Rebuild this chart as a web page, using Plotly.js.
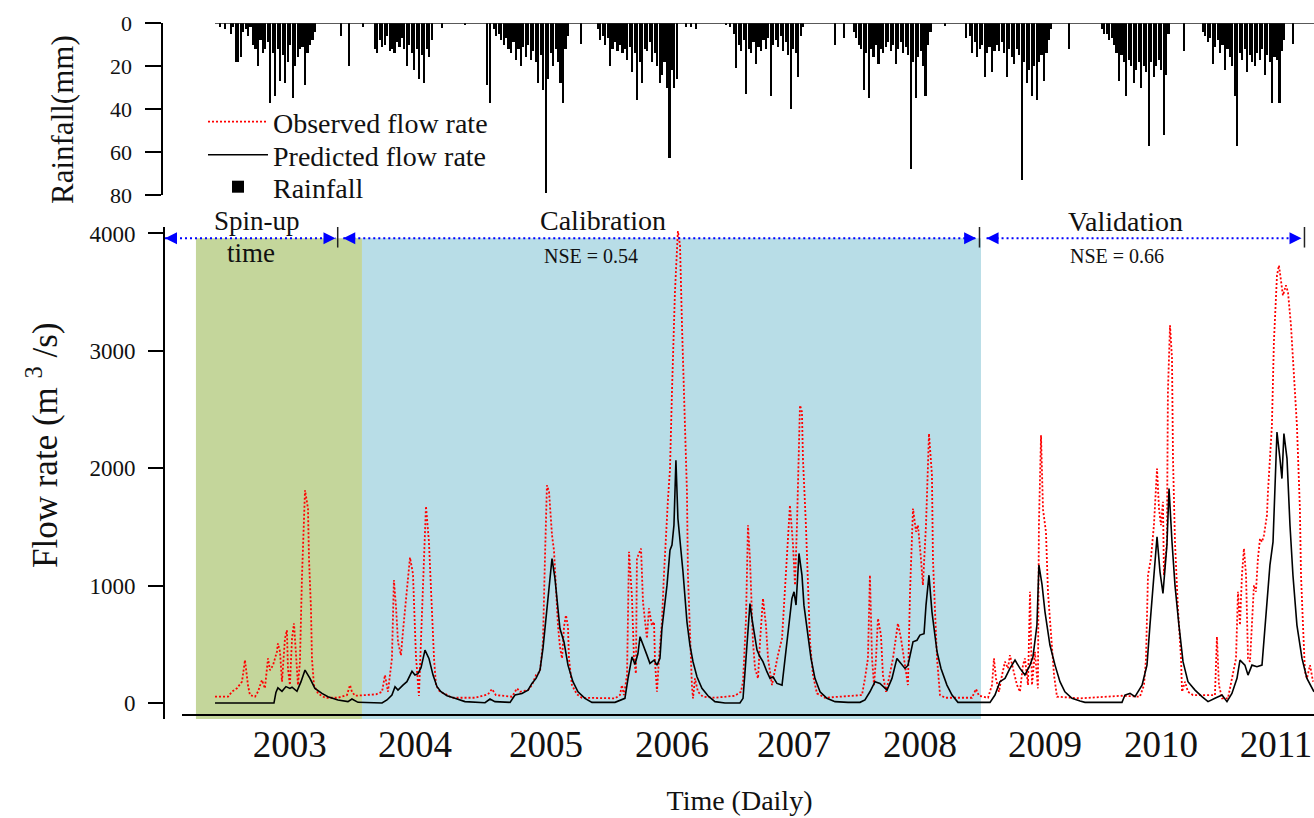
<!DOCTYPE html>
<html><head><meta charset="utf-8">
<script src="https://cdn.plot.ly/plotly-3.0.1.min.js"></script>
<style>html,body{margin:0;padding:0;background:#fff}#chart{width:1314px;height:818px}</style>
</head><body><div id="chart"></div>
<script>
// ---- time is in decimal years ----
const predT = [2002.813,2003.289,2003.305,2003.321,2003.354,2003.386,2003.418,2003.435,2003.475,2003.507,2003.540,2003.580,2003.620,2003.677,2003.725,2003.806,2003.887,2003.919,2003.968,2004.162,2004.202,2004.242,2004.267,2004.291,2004.331,2004.363,2004.404,2004.428,2004.452,2004.477,2004.509,2004.541,2004.574,2004.606,2004.638,2004.687,2004.751,2004.832,2004.994,2005.034,2005.074,2005.196,2005.236,2005.292,2005.341,2005.373,2005.406,2005.438,2005.462,2005.494,2005.519,2005.535,2005.559,2005.583,2005.599,2005.632,2005.664,2005.704,2005.745,2005.801,2005.858,2006.044,2006.084,2006.124,2006.149,2006.181,2006.205,2006.229,2006.246,2006.270,2006.302,2006.326,2006.359,2006.383,2006.407,2006.423,2006.464,2006.488,2006.504,2006.520,2006.536,2006.552,2006.577,2006.593,2006.625,2006.649,2006.674,2006.706,2006.746,2006.795,2006.851,2006.932,2007.053,2007.078,2007.102,2007.118,2007.134,2007.150,2007.166,2007.191,2007.215,2007.239,2007.271,2007.296,2007.320,2007.352,2007.393,2007.417,2007.441,2007.473,2007.490,2007.506,2007.530,2007.554,2007.570,2007.603,2007.627,2007.659,2007.700,2007.756,2007.821,2007.926,2008.023,2008.063,2008.103,2008.144,2008.184,2008.241,2008.281,2008.321,2008.346,2008.386,2008.410,2008.451,2008.483,2008.507,2008.540,2008.556,2008.580,2008.604,2008.645,2008.677,2008.725,2008.766,2008.814,2009.073,2009.113,2009.153,2009.194,2009.234,2009.275,2009.315,2009.355,2009.396,2009.420,2009.452,2009.468,2009.493,2009.517,2009.557,2009.598,2009.638,2009.678,2009.735,2009.800,2009.840,2010.139,2010.163,2010.204,2010.244,2010.301,2010.341,2010.365,2010.389,2010.422,2010.446,2010.470,2010.502,2010.519,2010.543,2010.567,2010.599,2010.632,2010.672,2010.729,2010.785,2010.834,2010.890,2010.947,2010.987,2011.027,2011.068,2011.092,2011.132,2011.157,2011.189,2011.229,2011.270,2011.294,2011.334,2011.359,2011.375,2011.391,2011.415,2011.431,2011.447,2011.472,2011.496,2011.520,2011.552,2011.593,2011.633,2011.674,2011.690];
const predQ = [0,0,90,130,100,140,125,135,100,180,281,210,125,82,54,26,12,34,6,0,26,68,139,110,153,182,270,238,250,300,451,380,238,139,96,62,40,12,3,34,12,6,68,82,110,167,210,281,465,777,1061,1231,1061,834,635,520,323,182,96,40,6,6,26,40,210,394,330,420,565,490,408,338,365,323,380,635,1004,1302,1345,1515,2068,1572,1316,1118,692,494,352,224,125,62,12,0,0,40,380,664,848,720,621,451,394,352,267,210,224,167,153,380,607,891,947,835,1274,1090,834,550,380,210,96,40,12,6,6,26,96,182,167,110,210,380,350,295,320,522,535,579,590,834,1089,777,437,295,153,68,6,6,68,182,210,295,366,295,238,323,394,664,1175,1010,777,494,323,182,96,40,17,6,6,68,82,54,153,323,664,1004,1416,1118,933,1344,1827,1372,1004,664,352,182,110,54,12,40,68,12,82,210,366,323,238,323,309,323,664,1175,1372,1799,2309,2082,1912,2295,2082,1515,1089,664,380,210,125,96];

const obsT = [2002.813,2002.918,2002.950,2002.990,2003.031,2003.055,2003.079,2003.095,2003.136,2003.160,2003.192,2003.216,2003.241,2003.257,2003.281,2003.313,2003.321,2003.338,2003.354,2003.378,2003.394,2003.402,2003.418,2003.435,2003.451,2003.467,2003.483,2003.499,2003.515,2003.540,2003.564,2003.572,2003.588,2003.596,2003.612,2003.645,2003.701,2003.806,2003.879,2003.903,2003.919,2003.944,2004.048,2004.113,2004.162,2004.186,2004.210,2004.242,2004.258,2004.275,2004.291,2004.315,2004.331,2004.355,2004.388,2004.412,2004.436,2004.460,2004.477,2004.493,2004.517,2004.541,2004.565,2004.582,2004.598,2004.630,2004.679,2004.727,2004.913,2005.018,2005.050,2005.082,2005.212,2005.252,2005.276,2005.341,2005.373,2005.406,2005.438,2005.462,2005.478,2005.494,2005.511,2005.527,2005.535,2005.551,2005.567,2005.583,2005.599,2005.616,2005.632,2005.648,2005.664,2005.672,2005.696,2005.737,2005.777,2006.044,2006.084,2006.100,2006.116,2006.141,2006.157,2006.181,2006.197,2006.213,2006.221,2006.254,2006.270,2006.302,2006.318,2006.342,2006.359,2006.367,2006.383,2006.399,2006.423,2006.439,2006.472,2006.488,2006.504,2006.528,2006.552,2006.569,2006.585,2006.601,2006.625,2006.633,2006.649,2006.665,2006.674,2006.690,2006.714,2006.754,2006.851,2007.013,2007.061,2007.078,2007.102,2007.118,2007.134,2007.158,2007.175,2007.199,2007.215,2007.239,2007.263,2007.280,2007.312,2007.336,2007.360,2007.393,2007.417,2007.441,2007.457,2007.481,2007.498,2007.514,2007.538,2007.554,2007.562,2007.586,2007.603,2007.619,2007.643,2007.675,2007.740,2008.039,2008.063,2008.087,2008.103,2008.120,2008.136,2008.152,2008.168,2008.192,2008.208,2008.233,2008.257,2008.289,2008.329,2008.354,2008.386,2008.410,2008.427,2008.451,2008.475,2008.491,2008.515,2008.531,2008.556,2008.580,2008.604,2008.612,2008.628,2008.645,2008.669,2008.709,2008.927,2008.960,2008.984,2009.057,2009.089,2009.105,2009.121,2009.145,2009.170,2009.194,2009.218,2009.234,2009.258,2009.291,2009.315,2009.339,2009.355,2009.380,2009.396,2009.412,2009.436,2009.460,2009.468,2009.485,2009.501,2009.509,2009.525,2009.541,2009.573,2009.590,2009.614,2009.800,2010.139,2010.284,2010.317,2010.333,2010.349,2010.373,2010.397,2010.422,2010.438,2010.454,2010.470,2010.478,2010.502,2010.510,2010.527,2010.543,2010.551,2010.567,2010.591,2010.616,2010.624,2010.648,2010.672,2010.712,2010.890,2010.906,2010.922,2010.947,2010.995,2011.036,2011.060,2011.076,2011.092,2011.108,2011.124,2011.141,2011.157,2011.173,2011.189,2011.205,2011.221,2011.237,2011.254,2011.270,2011.286,2011.310,2011.318,2011.350,2011.366,2011.391,2011.407,2011.423,2011.439,2011.463,2011.480,2011.504,2011.528,2011.552,2011.576,2011.585,2011.601,2011.617,2011.633,2011.658,2011.682];
const obsQ = [54,54,97,125,182,366,153,68,54,97,196,125,380,280,320,437,508,437,182,550,621,295,153,550,678,400,153,352,1061,1813,1657,1230,806,380,153,82,45,45,68,153,96,62,68,74,96,238,96,380,1047,820,520,408,610,900,1240,1100,400,60,520,1100,1677,1373,806,380,153,96,74,45,45,74,119,68,54,125,96,110,153,238,267,522,1231,1855,1800,1520,1430,1300,947,664,480,380,650,749,650,380,153,74,45,40,68,153,68,238,1288,900,380,250,1231,1316,860,550,806,660,692,350,96,380,692,1089,1742,1990,2650,3500,4020,3900,3217,2650,1799,1089,520,153,40,210,96,54,45,62,96,182,720,1515,1230,522,295,210,522,891,664,380,153,295,408,550,948,1373,1685,1360,1004,1530,2536,2480,2082,1515,948,522,238,82,45,68,210,380,1089,380,153,380,720,580,238,96,210,380,678,550,323,153,948,1657,1460,1515,1231,1004,1515,2295,1940,1231,806,380,68,45,45,119,62,45,153,380,210,96,238,352,295,408,295,153,96,323,380,153,948,153,437,125,1515,2281,1650,1570,1458,948,522,238,54,40,62,54,153,380,1089,1231,1515,1997,1657,1515,1714,1089,1373,2650,3217,2934,2082,1373,806,380,96,182,96,68,68,565,153,40,40,267,380,948,664,1089,1316,1089,380,352,664,1004,948,1231,1401,1372,1430,1600,1799,2366,3075,3643,3728,3586,3472,3558,3500,3217,2792,2366,1657,1089,664,267,210,323,182];

// Rainfall (mm): wet-season records (start year, fixed step) and isolated days
const rainStarts = [2002.982, 2004.105, 2005.066, 2005.906, 2007.005, 2007.974, 2008.911, 2009.977, 2010.793];
const rainStep = 0.02;
const rain2003 = [18,18,16,4,3,6,2,10,12,20,8,14,12,9,37,14,34,12,27,15,28,18,10,35,20,16,12,11,29,14,10,8,4];
const rain2004 = [12,14,8,11,10,6,13,12,14,9,11,7,12,20,10,14,22,12,26,15,28,12,16,8];
const rain2005 = [3,6,5,8,10,7,12,14,9,17,12,20,11,16,10,17,13,18,28,15,31,79,26,14,20,12,18,28,37,12,6];
const rain2006 = [3,8,6,10,7,20,12,9,13,10,14,12,17,11,23,14,36,18,28,12,13,9,18,14,20,28,24,18,30,63,22,30,26];
const rain2007 = [5,21,10,13,8,33,12,14,9,19,11,13,8,12,7,34,10,8,11,6,13,9,15,40,12,14,25,6,2];
const rain2008 = [4,7,10,12,31,14,35,12,16,10,19,12,14,11,9,13,10,19,12,9,14,11,15,68,18,35,16,13,20,34,10,4];
const rain2009 = [6,14,9,16,12,10,25,14,11,23,13,10,13,9,14,25,12,16,19,12,15,73,18,28,22,34,20,36,18,15,27,14,8,3];
const rain2010 = [3,5,5,8,7,10,14,27,15,18,34,17,20,28,22,18,30,20,23,57,18,25,20,17,22,52,24,5];
const rain2011 = [4,6,9,7,19,11,8,14,10,22,12,16,20,34,57,14,17,12,23,15,18,20,14,17,12,24,15,18,37,16,17,37,13,8];
const rainOtherT = [2002.853,2002.893,2002.942,2002.958,2003.830,2003.895,2004.008,2004.646,2004.832,2005.009,2005.034,2005.769,2006.617,2006.658,2006.698,2006.940,2006.973,2007.821,2007.893,2008.709,2008.879,2009.711,2010.640,2011.520];
const rainOtherMM = [2,3,5,2,6,20,2,2.5,1,29,37,9.6,2,2,3,1,2,10,7,1.5,7,12,13,9.6];

// Periods (decimal years)
const spinupPeriod = [2002.659, 2004.0];
const calibPeriod = [2004.0, 2009.0];
const arrowSpin = [2002.409, 2003.786];
const arrowCalib = [2003.849, 2008.961];
const arrowValid = [2009.045, 2011.589];
const periodMarks = [2003.804, 2008.988, 2011.613];
const nseLabels = ['NSE = 0.54', 'NSE = 0.66'];

// x tick labels
const yearTicks = [2003.417, 2004.428, 2005.486, 2006.504, 2007.490, 2008.507, 2009.517, 2010.454, 2011.383];
const yearLabels = ['2003','2004','2005','2006','2007','2008','2009','2010','2011'];
const flowTicks = [0, 1000, 2000, 3000, 4000];
const rainTicks = [0, 20, 40, 60, 80];

// build rainfall bar arrays
const rainSeasons = [rain2003, rain2004, rain2005, rain2006, rain2007, rain2008, rain2009, rain2010, rain2011];
const rainT = [], rainMM = [];
rainSeasons.forEach((s, k) => s.forEach((v, i) => { rainT.push(+(rainStarts[k] + i * rainStep).toFixed(4)); rainMM.push(v); }));
rainOtherT.forEach((t, i) => { rainT.push(t); rainMM.push(rainOtherMM[i]); });

const W = 1314, H = 818;
const px = x => x / W, py = y => 1 - y / H;
const FONT = 'Liberation Serif, Times New Roman, serif';
const TXT = '#111111';
const BLUE = '#0000ff';
const arrowY = 3960;

function arrowTrace(pair) {
  return {x: pair, y: [arrowY, arrowY], xaxis: 'x', yaxis: 'y', mode: 'lines+markers', showlegend: false, hoverinfo: 'skip',
    line: {color: BLUE, width: 2, dash: '2px,3px'},
    marker: {symbol: ['arrow-left', 'arrow-right'], size: 12, color: BLUE}};
}

const traces = [
  {x: obsT, y: obsQ, name: 'Observed flow rate', type: 'scatter', mode: 'lines', xaxis: 'x', yaxis: 'y', legend: 'legend',
   line: {color: '#ff0000', width: 1.8, dash: '2px,2px'}},
  {x: predT, y: predQ, name: 'Predicted flow rate', type: 'scatter', mode: 'lines', xaxis: 'x', yaxis: 'y', legend: 'legend2',
   line: {color: '#000000', width: 1.6}},
  {x: rainT, y: rainMM, name: 'Rainfall', type: 'bar', xaxis: 'x2', yaxis: 'y2', legend: 'legend3', width: 0.013,
   marker: {color: '#000000', line: {width: 0}}},
  arrowTrace(arrowSpin), arrowTrace(arrowCalib), arrowTrace(arrowValid)
];

const shapes = [
  {type: 'rect', xref: 'x', yref: 'y', x0: spinupPeriod[0], x1: spinupPeriod[1], y0: -136, y1: arrowY, fillcolor: '#c4d69b', line: {width: 0}, layer: 'below'},
  {type: 'rect', xref: 'x', yref: 'y', x0: calibPeriod[0], x1: calibPeriod[1], y0: -136, y1: arrowY, fillcolor: '#b8dde7', line: {width: 0}, layer: 'below'},
  {type: 'line', xref: 'paper', yref: 'y', x0: px(182), x1: 1, y0: -102, y1: -102, line: {color: '#000', width: 2}},
  {type: 'line', xref: 'x2', yref: 'y2', x0: predT[0], x1: predT[predT.length - 1], y0: 0, y1: 0, line: {color: '#222', width: 1.5}}
].concat(periodMarks.map(t => ({type: 'line', xref: 'x', yref: 'y', x0: t, x1: t, y0: 3880, y1: 4055, line: {color: '#222', width: 1.5}})));

const ann = (text, x, y, size, extra) => Object.assign({text, x: px(x), y: py(y), xref: 'paper', yref: 'paper', showarrow: false,
  xanchor: 'center', yanchor: 'middle', font: {family: FONT, size, color: TXT}}, extra || {});

const legendBase = (y) => ({x: px(203), y: py(y), xanchor: 'left', yanchor: 'middle', bgcolor: 'rgba(0,0,0,0)',
  font: {family: FONT, size: 28, color: TXT}, itemwidth: 60});

const layout = {
  width: W, height: H,
  margin: {l: 0, r: 0, t: 0, b: 0},
  paper_bgcolor: '#ffffff', plot_bgcolor: 'rgba(0,0,0,0)',
  font: {family: FONT, color: TXT},
  bargap: 0,
  xaxis: {domain: [px(165), 1], range: [2002.409, 2011.690], anchor: 'y', showline: false, showgrid: false, zeroline: false,
    ticks: '', tickvals: yearTicks, ticktext: yearLabels, tickfont: {family: FONT, size: 37, color: TXT},
    title: {text: 'Time (Daily)', font: {family: FONT, size: 28, color: TXT}, standoff: 26}},
  yaxis: {domain: [py(719), py(227)], range: [-136, 4055], anchor: 'x', showline: true, linewidth: 2, linecolor: '#000',
    showgrid: false, zeroline: false, ticks: 'outside', ticklen: 15, tickwidth: 2, tickcolor: '#000',
    tickvals: flowTicks, tickfont: {family: FONT, size: 23, color: TXT}, ticklabelstandoff: 8},
  xaxis2: {domain: [px(165), 1], matches: 'x', anchor: 'y2', visible: false},
  yaxis2: {domain: [py(195), py(23)], range: [80, 0], anchor: 'free', position: px(161.5), showline: true, linewidth: 2, linecolor: '#000',
    showgrid: false, zeroline: false, ticks: 'outside', ticklen: 16, tickwidth: 2, tickcolor: '#000',
    tickvals: rainTicks, tickfont: {family: FONT, size: 22, color: TXT}, ticklabelstandoff: 8},
  legend: legendBase(122),
  legend2: legendBase(155),
  legend3: legendBase(187),
  shapes: shapes,
  annotations: [
    ann('Rainfall(mm)', 62, 120, 31, {textangle: -90}),
    ann('Flow rate (m <sup>3</sup> /s)', 42, 445, 35, {textangle: -90}),
    ann('Spin-up', 257, 221, 27),
    ann('time', 251, 253, 27),
    ann('Calibration', 603, 220, 28),
    ann(nseLabels[0], 591, 256, 20),
    ann('Validation', 1125, 222, 28),
    ann(nseLabels[1], 1117, 256, 20)
  ]
};

Plotly.newPlot('chart', traces, layout, {displayModeBar: false, responsive: false});
</script>
</body></html>
